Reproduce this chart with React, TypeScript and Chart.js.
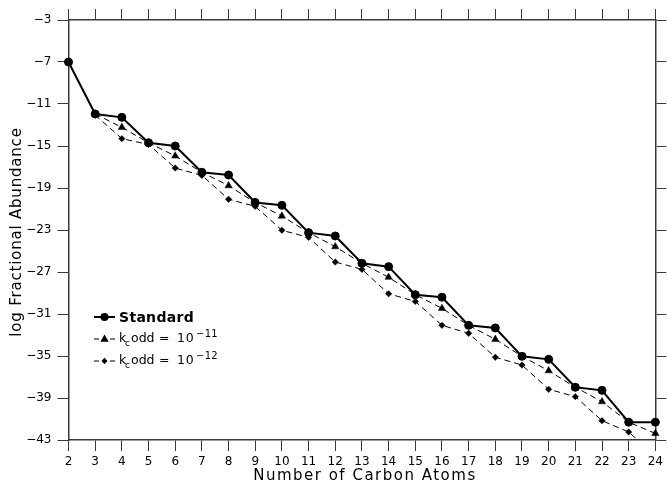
import React, { useEffect, useRef } from 'react';
import { Chart, registerables } from 'chart.js';

Chart.register(...registerables);

// ---- data ----
const carbonAtoms = [2, 3, 4, 5, 6, 7, 8, 9, 10, 11, 12, 13, 14, 15, 16, 17, 18, 19, 20, 21, 22, 23, 24];
const kAtoms = [3, 4, 5, 6, 7, 8, 9, 10, 11, 12, 13, 14, 15, 16, 17, 18, 19, 20, 21, 22, 23, 24];

const standard = [
  -7.0, -11.95, -12.27, -14.69, -15.0, -17.5, -17.76, -20.38, -20.65, -23.25, -23.57, -26.17,
  -26.49, -29.16, -29.4, -32.08, -32.33, -35.03, -35.32, -37.98, -38.27, -41.3, -41.3,
];
const kOdd11 = [
  -11.95, -13.22, -14.69, -15.95, -17.5, -18.78, -20.38, -21.67, -23.25, -24.59, -26.17,
  -27.5, -29.16, -30.46, -32.08, -33.41, -35.03, -36.4, -37.98, -39.35, -41.3, -42.37,
];
const kOdd12 = [
  -12.05, -14.3, -14.85, -17.1, -17.8, -20.07, -20.75, -23.03, -23.7, -26.05, -26.75,
  -29.07, -29.8, -32.08, -32.84, -35.12, -35.86, -38.17, -38.87, -41.16, -42.24, -44.5,
];

const xTicks = carbonAtoms;
const yTicks = [-43, -39, -35, -31, -27, -23, -19, -15, -11, -7, -3];

const xTitle = 'Number of Carbon Atoms';
const yTitle = 'log Fractional Abundance';
const legendStandard = 'Standard';
const legendK = 'k';
const legendSub = 'c';
const legendOdd = 'odd';
const legendEq = '=';
const legendBase = '10';
const legendExp11 = '\u221211';
const legendExp12 = '\u221212';

const FONT = '"DejaVu Sans", "Liberation Sans", sans-serif';
const AXIS_COLOR = '#3a3a3a';

const overlayPlugin = {
  id: 'overlay',
  afterDraw(chart: any) {
    const ctx: CanvasRenderingContext2D = chart.ctx;
    const area = chart.chartArea;
    ctx.save();
    ctx.fillStyle = '#000';
    ctx.strokeStyle = '#000';
    // axis titles
    ctx.font = `15px ${FONT}`;
    (ctx as any).letterSpacing = '1.5px';
    ctx.textAlign = 'center';
    ctx.textBaseline = 'middle';
    ctx.fillText(xTitle, (area.left + area.right) / 2 + 3, 476);
    ctx.save();
    (ctx as any).letterSpacing = '0.8px';
    ctx.translate(17, (area.top + area.bottom) / 2 + 2);
    ctx.rotate(-Math.PI / 2);
    ctx.fillText(yTitle, 0, 0);
    ctx.restore();

    // legend
    (ctx as any).letterSpacing = '0px';
    ctx.textAlign = 'left';
    const symX0 = 94;
    const symX1 = 115;
    const symC = 104.5;
    const rows = [317, 339, 361];

    // row 1: standard
    ctx.lineWidth = 2;
    ctx.setLineDash([]);
    ctx.beginPath();
    ctx.moveTo(symX0, rows[0]);
    ctx.lineTo(symX1, rows[0]);
    ctx.stroke();
    ctx.beginPath();
    ctx.arc(symC, rows[0], 4, 0, Math.PI * 2);
    ctx.fill();
    ctx.font = `bold 14px ${FONT}`;
    (ctx as any).letterSpacing = '0.3px';
    ctx.fillText(legendStandard, 119, rows[0] + 1);

    // rows 2,3
    const drawK = (y: number, exp: string, marker: string) => {
      ctx.lineWidth = 1;
      ctx.beginPath();
      ctx.moveTo(symX0, y);
      ctx.lineTo(symX0 + 5, y);
      ctx.moveTo(symX1 - 5, y);
      ctx.lineTo(symX1, y);
      ctx.stroke();
      ctx.beginPath();
      if (marker === 'tri') {
        ctx.moveTo(symC, y - 4.5);
        ctx.lineTo(symC + 4.2, y + 2.8);
        ctx.lineTo(symC - 4.2, y + 2.8);
        ctx.closePath();
      } else {
        ctx.moveTo(symC, y - 3.3);
        ctx.lineTo(symC + 3, y);
        ctx.lineTo(symC, y + 3.3);
        ctx.lineTo(symC - 3, y);
        ctx.closePath();
      }
      ctx.fill();
      (ctx as any).letterSpacing = '0px';
      ctx.font = `12.5px ${FONT}`;
      ctx.fillText(legendK, 119, y);
      ctx.font = `9px ${FONT}`;
      ctx.fillText(legendSub, 125, y + 5);
      ctx.font = `12.5px ${FONT}`;
      ctx.fillText(legendOdd, 131, y);
      ctx.fillText(legendEq, 159, y);
      (ctx as any).letterSpacing = '0.8px';
      ctx.fillText(legendBase, 177, y);
      (ctx as any).letterSpacing = '0.3px';
      ctx.font = `10px ${FONT}`;
      ctx.fillText(exp, 196, y - 5);
    };
    drawK(rows[1], legendExp11, 'tri');
    drawK(rows[2], legendExp12, 'dia');
    ctx.restore();
  },
};

function toPoints(xs: number[], ys: number[]) {
  return ys.map((v, i) => ({ x: xs[i], y: v }));
}

export default function App() {
  const canvasRef = useRef<HTMLCanvasElement | null>(null);

  useEffect(() => {
    if (!canvasRef.current) return;
    const tickFont = { family: FONT, size: 12 };
    const gridBase = {
      drawOnChartArea: false,
      drawTicks: true,
      tickLength: 11,
      color: AXIS_COLOR,
      lineWidth: 1,
    };
    const border = { display: true, color: AXIS_COLOR, width: 1.5 };

    const chart = new Chart(canvasRef.current, {
      type: 'line',
      data: {
        datasets: [
          {
            label: legendStandard,
            data: toPoints(carbonAtoms, standard),
            borderColor: '#000',
            backgroundColor: '#000',
            borderWidth: 2,
            pointStyle: 'circle',
            pointRadius: 4,
            pointBorderWidth: 1,
            tension: 0,
            clip: false as any,
          },
          {
            label: 'kc odd 1e-11',
            data: toPoints(kAtoms, kOdd11),
            borderColor: '#000',
            backgroundColor: '#000',
            borderWidth: 1,
            borderDash: [6, 4],
            pointStyle: 'triangle',
            pointRadius: 4.2,
            pointBorderWidth: 0.5,
            tension: 0,
            clip: { left: 8, right: 8, top: 8, bottom: 6 } as any,
          },
          {
            label: 'kc odd 1e-12',
            data: toPoints(kAtoms, kOdd12),
            borderColor: '#000',
            backgroundColor: '#000',
            borderWidth: 1,
            borderDash: [6, 4],
            pointStyle: 'rectRot',
            pointRadius: 3.2,
            pointBorderWidth: 0.5,
            tension: 0,
            clip: { left: 8, right: 8, top: 8, bottom: 0 } as any,
          },
        ],
      },
      options: {
        responsive: false,
        animation: false,
        events: [],
        layout: { padding: 0 },
        plugins: {
          legend: { display: false },
          tooltip: { enabled: false },
          title: { display: false },
        },
        scales: {
          x: {
            type: 'linear',
            position: 'bottom',
            min: 2,
            max: 24,
            afterBuildTicks: (s: any) => {
              s.ticks = xTicks.map((v) => ({ value: v }));
            },
            afterFit: (s: any) => {
              s.height = 45;
            },
            ticks: {
              autoSkip: false,
              maxRotation: 0,
              font: tickFont,
              color: '#000',
              padding: 4,
              callback: (v: any) => String(v),
            },
            grid: gridBase,
            border,
          },
          x2: {
            type: 'linear',
            position: 'top',
            min: 2,
            max: 24,
            afterBuildTicks: (s: any) => {
              s.ticks = xTicks.map((v) => ({ value: v }));
            },
            afterFit: (s: any) => {
              s.height = 20;
            },
            ticks: { display: false, autoSkip: false },
            grid: gridBase,
            border,
          },
          y: {
            type: 'linear',
            position: 'left',
            min: -43,
            max: -3,
            afterBuildTicks: (s: any) => {
              s.ticks = yTicks.map((v) => ({ value: v }));
            },
            afterFit: (s: any) => {
              s.width = 68.5;
            },
            ticks: {
              autoSkip: false,
              font: tickFont,
              color: '#000',
              padding: 6,
              callback: (v: any) => String(v).replace('-', '\u2212'),
            },
            grid: gridBase,
            border,
          },
          y2: {
            type: 'linear',
            position: 'right',
            min: -43,
            max: -3,
            afterBuildTicks: (s: any) => {
              s.ticks = yTicks.map((v) => ({ value: v }));
            },
            afterFit: (s: any) => {
              s.width = 9;
            },
            ticks: { display: false, autoSkip: false },
            grid: gridBase,
            border,
          },
        },
      },
      plugins: [overlayPlugin],
    } as any);

    return () => {
      chart.destroy();
    };
  }, []);

  return (
    <div style={{ position: 'absolute', left: 0, top: 0, width: 667, height: 485, background: '#fff' }}>
      <canvas ref={canvasRef} width={667} height={485} style={{ display: 'block' }} />
    </div>
  );
}
